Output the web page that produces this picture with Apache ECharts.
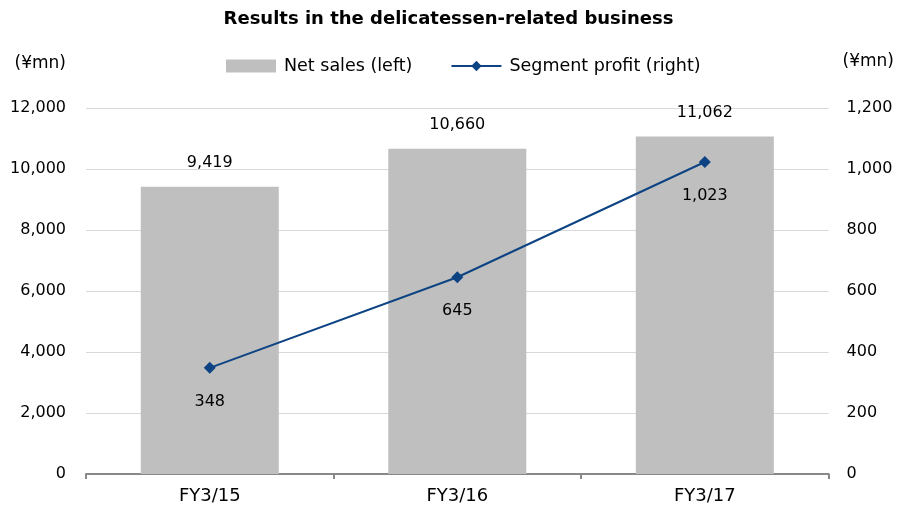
<!DOCTYPE html>
<html>
<head>
<meta charset="utf-8">
<script src="https://cdn.jsdelivr.net/npm/echarts@6/dist/echarts.min.js"></script>
<style>
  html, body { margin: 0; padding: 0; background: #fff; }
  #chart { width: 897px; height: 509px; }
</style>
</head>
<body>
<div id="chart"></div>
<script>
const categories = ['FY3/15', 'FY3/16', 'FY3/17']
const netSales = [9419, 10660, 11062]
const segmentProfit = [348, 645, 1023]

const font = '"DejaVu Sans", sans-serif'
const fmt = v => v.toLocaleString('en-US')

const chart = echarts.init(document.getElementById('chart'))
chart.setOption({
  animation: false,
  textStyle: { fontFamily: font, color: '#000' },
  title: {
    text: 'Results in the delicatessen-related business',
    left: 'center',
    top: 5,
    textStyle: { fontSize: 18, fontWeight: 'bold', color: '#000', fontFamily: font }
  },
  legend: {
    top: 52,
    left: 221,
    itemGap: 38,
    itemWidth: 50,
    itemHeight: 13,
    textStyle: { fontSize: 17.5, color: '#000', fontFamily: font, padding: [0, 0, 0, 3] },
    data: [
      { name: 'Net sales (left)', icon: 'rect' },
      { name: 'Segment profit (right)' }
    ]
  },
  grid: { left: 86, right: 68, top: 108, bottom: 35 },
  xAxis: {
    type: 'category',
    data: categories,
    axisLine: { lineStyle: { color: '#898989', width: 2 } },
    axisTick: { show: true, length: 5, lineStyle: { color: '#898989', width: 2 } },
    axisLabel: { fontSize: 18, color: '#000', margin: 13, fontFamily: font }
  },
  yAxis: [{
    type: 'value',
    name: '(¥mn)',
    nameLocation: 'end',
    nameGap: 36,
    nameTextStyle: { fontSize: 17, color: '#000', align: 'right', padding: [0, 20, 0, 0] },
    min: 0,
    max: 12000,
    interval: 2000,
    axisLine: { show: false },
    axisTick: { show: false },
    axisLabel: { fontSize: 16, color: '#000', margin: 20, formatter: v => fmt(v) },
    splitLine: { lineStyle: { color: '#d9d9d9' } }
  }, {
    type: 'value',
    name: '(¥mn)',
    nameLocation: 'end',
    nameGap: 38,
    nameTextStyle: { fontSize: 17, color: '#000', align: 'left', padding: [0, 0, 0, 14] },
    min: 0,
    max: 1200,
    interval: 200,
    axisLine: { show: false },
    axisTick: { show: false },
    axisLabel: { fontSize: 16, color: '#000', margin: 18, formatter: v => fmt(v) },
    splitLine: { show: false }
  }],
  series: [{
    name: 'Net sales (left)',
    type: 'bar',
    data: netSales,
    barWidth: 138,
    itemStyle: { color: '#bfbfbf' },
    label: {
      show: true,
      position: 'top',
      distance: 16,
      fontSize: 16,
      color: '#000',
      formatter: p => fmt(p.value)
    }
  }, {
    name: 'Segment profit (right)',
    type: 'line',
    yAxisIndex: 1,
    data: segmentProfit,
    symbol: 'diamond',
    symbolSize: 12,
    lineStyle: { color: '#0d4383', width: 2 },
    itemStyle: { color: '#0d4383' },
    label: {
      show: true,
      position: 'bottom',
      distance: 20,
      fontSize: 16,
      color: '#000',
      formatter: p => fmt(p.value)
    }
  }]
})
</script>
</body>
</html>
